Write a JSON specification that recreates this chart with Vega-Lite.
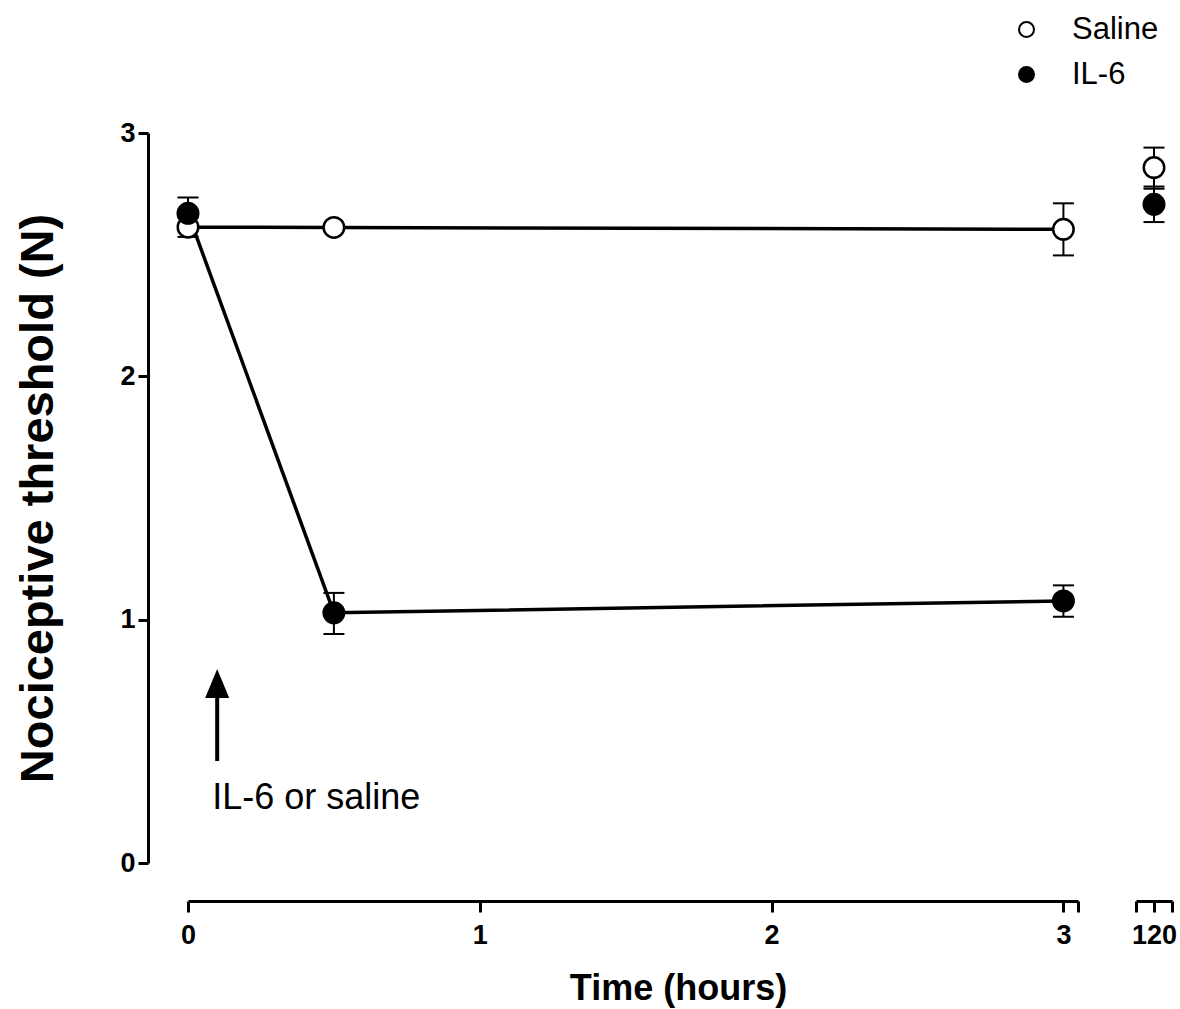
{
  "$schema": "https://vega.github.io/schema/vega-lite/v6.json",
  "background": "white",
  "padding": {"left": 14, "top": 14, "right": 0, "bottom": 5},
  "bounds": "flush",
  "spacing": 58,
  "datasets": {
    "main": [
      {"group": "Saline", "time": 0, "mean": 2.613, "lo": 2.573, "hi": 2.653},
      {"group": "Saline", "time": 0.5, "mean": 2.612, "lo": 2.602, "hi": 2.622},
      {"group": "Saline", "time": 3, "mean": 2.604, "lo": 2.497, "hi": 2.711},
      {"group": "Saline", "time": 120, "mean": 2.858, "lo": 2.771, "hi": 2.94},
      {"group": "IL-6", "time": 0, "mean": 2.67, "lo": 2.605, "hi": 2.735},
      {"group": "IL-6", "time": 0.5, "mean": 1.028, "lo": 0.941, "hi": 1.11},
      {"group": "IL-6", "time": 3, "mean": 1.077, "lo": 1.012, "hi": 1.141},
      {"group": "IL-6", "time": 120, "mean": 2.707, "lo": 2.634, "hi": 2.78}
    ],
    "arrow": [{"time": 0.1, "y0": 0.419, "y1": 0.7, "head": 0.738}],
    "note": [{"time": 0.083, "y": 0.222, "label": "IL-6 or saline"}]
  },
  "config": {
    "font": "Liberation Sans",
    "view": {"stroke": null},
    "axis": {
      "grid": false,
      "domainColor": "black",
      "domainWidth": 3,
      "tickColor": "black",
      "tickWidth": 3,
      "labelColor": "black",
      "labelFont": "Liberation Sans",
      "labelFontSize": 27,
      "labelFontWeight": "bold",
      "labelFlush": false,
      "labelOverlap": false,
      "titleColor": "black",
      "titleFont": "Liberation Sans",
      "titleFontWeight": "bold"
    },
    "legend": {
      "orient": "none",
      "legendX": 823,
      "legendY": -119,
      "padding": 0,
      "symbolType": "circle",
      "symbolSize": 225,
      "symbolStrokeColor": "black",
      "symbolStrokeWidth": 2,
      "labelFont": "Liberation Sans",
      "labelFontSize": 31,
      "labelColor": "black",
      "labelOffset": 30,
      "rowPadding": 13
    }
  },
  "resolve": {"scale": {"x": "independent"}},
  "hconcat": [
    {
      "width": 890,
      "height": 730,
      "layer": [
        {
          "data": {"name": "main"},
          "transform": [{"filter": "datum.time <= 3"}],
          "mark": {"type": "line", "color": "black", "strokeWidth": 3.5},
          "encoding": {
            "x": {"field": "time", "type": "quantitative", "scale": {"domain": [0, 3.05], "nice": false, "zero": false},
              "axis": {"offset": 38, "values": [0, 1, 2, 3, 3.05], "tickCount": 10, "labelExpr": "datum.value == 3.05 ? '' : format(datum.value, 'd')", "tickSize": 11, "labelPadding": 10, "title": "Time (hours)", "titleFontSize": 36, "titleX": 490, "titlePadding": 23}},
            "y": {"field": "mean", "type": "quantitative", "scale": {"domain": [0, 3], "nice": false},
              "axis": {"offset": 40, "values": [0, 1, 2, 3], "tickCount": 10, "format": "d", "tickSize": 10, "labelPadding": 3, "title": "Nociceptive threshold (N)", "titleFontSize": 47, "titlePadding": 57}},
            "detail": {"field": "group"}
          }
        },
        {
          "data": {"name": "main"},
          "transform": [{"filter": "datum.time <= 3"}],
          "mark": {"type": "rule", "color": "black", "strokeWidth": 2},
          "encoding": {
            "x": {"field": "time", "type": "quantitative"},
            "y": {"field": "lo", "type": "quantitative"},
            "y2": {"field": "hi"}
          }
        },
        {
          "data": {"name": "main"},
          "transform": [{"filter": "datum.time <= 3"}],
          "mark": {"type": "tick", "orient": "horizontal", "size": 21, "thickness": 2, "color": "black", "opacity": 1},
          "encoding": {
            "x": {"field": "time", "type": "quantitative"},
            "y": {"field": "lo", "type": "quantitative"}
          }
        },
        {
          "data": {"name": "main"},
          "transform": [{"filter": "datum.time <= 3"}],
          "mark": {"type": "tick", "orient": "horizontal", "size": 21, "thickness": 2, "color": "black", "opacity": 1},
          "encoding": {
            "x": {"field": "time", "type": "quantitative"},
            "y": {"field": "hi", "type": "quantitative"}
          }
        },
        {
          "data": {"name": "main"},
          "transform": [{"filter": "datum.time <= 3"}],
          "mark": {"type": "point", "shape": "circle", "filled": true, "size": 420, "stroke": "black", "strokeWidth": 2.5, "opacity": 1},
          "encoding": {
            "x": {"field": "time", "type": "quantitative"},
            "y": {"field": "mean", "type": "quantitative"},
            "fill": {"field": "group", "type": "nominal", "scale": {"domain": ["Saline", "IL-6"], "range": ["white", "black"]}, "legend": {"title": null}}
          }
        },
        {
          "data": {"name": "arrow"},
          "mark": {"type": "rule", "color": "black", "strokeWidth": 4},
          "encoding": {
            "x": {"field": "time", "type": "quantitative"},
            "y": {"field": "y0", "type": "quantitative"},
            "y2": {"field": "y1"}
          }
        },
        {
          "data": {"name": "arrow"},
          "mark": {"type": "point", "shape": "M0,-1L-0.83,1L0.83,1Z", "filled": true, "size": 841, "color": "black", "opacity": 1},
          "encoding": {
            "x": {"field": "time", "type": "quantitative"},
            "y": {"field": "head", "type": "quantitative"}
          }
        },
        {
          "data": {"name": "note"},
          "mark": {"type": "text", "align": "left", "baseline": "alphabetic", "fontSize": 36, "font": "Liberation Sans", "color": "black"},
          "encoding": {
            "x": {"field": "time", "type": "quantitative"},
            "y": {"field": "y", "type": "quantitative"},
            "text": {"field": "label"}
          }
        }
      ]
    },
    {
      "width": 36,
      "height": 730,
      "data": {"name": "main"},
      "transform": [{"filter": "datum.time == 120"}],
      "layer": [
        {
          "mark": {"type": "rule", "color": "black", "strokeWidth": 2},
          "encoding": {
            "x": {"field": "time", "type": "quantitative", "scale": {"domain": [119.9, 120.1], "nice": false, "zero": false},
              "axis": {"offset": 38, "values": [119.9, 120, 120.1], "tickCount": 10, "labelExpr": "datum.value == 120 ? '120' : ''", "tickSize": 11, "labelPadding": 10, "title": null}},
            "y": {"field": "lo", "type": "quantitative", "scale": {"domain": [0, 3], "nice": false}, "axis": null},
            "y2": {"field": "hi"}
          }
        },
        {
          "mark": {"type": "tick", "orient": "horizontal", "size": 21, "thickness": 2, "color": "black", "opacity": 1},
          "encoding": {
            "x": {"field": "time", "type": "quantitative"},
            "y": {"field": "lo", "type": "quantitative"}
          }
        },
        {
          "mark": {"type": "tick", "orient": "horizontal", "size": 21, "thickness": 2, "color": "black", "opacity": 1},
          "encoding": {
            "x": {"field": "time", "type": "quantitative"},
            "y": {"field": "hi", "type": "quantitative"}
          }
        },
        {
          "mark": {"type": "point", "shape": "circle", "filled": true, "size": 420, "stroke": "black", "strokeWidth": 2.5, "opacity": 1},
          "encoding": {
            "x": {"field": "time", "type": "quantitative"},
            "y": {"field": "mean", "type": "quantitative"},
            "fill": {"field": "group", "type": "nominal", "scale": {"domain": ["Saline", "IL-6"], "range": ["white", "black"]}, "legend": {"title": null}}
          }
        }
      ]
    }
  ]
}
